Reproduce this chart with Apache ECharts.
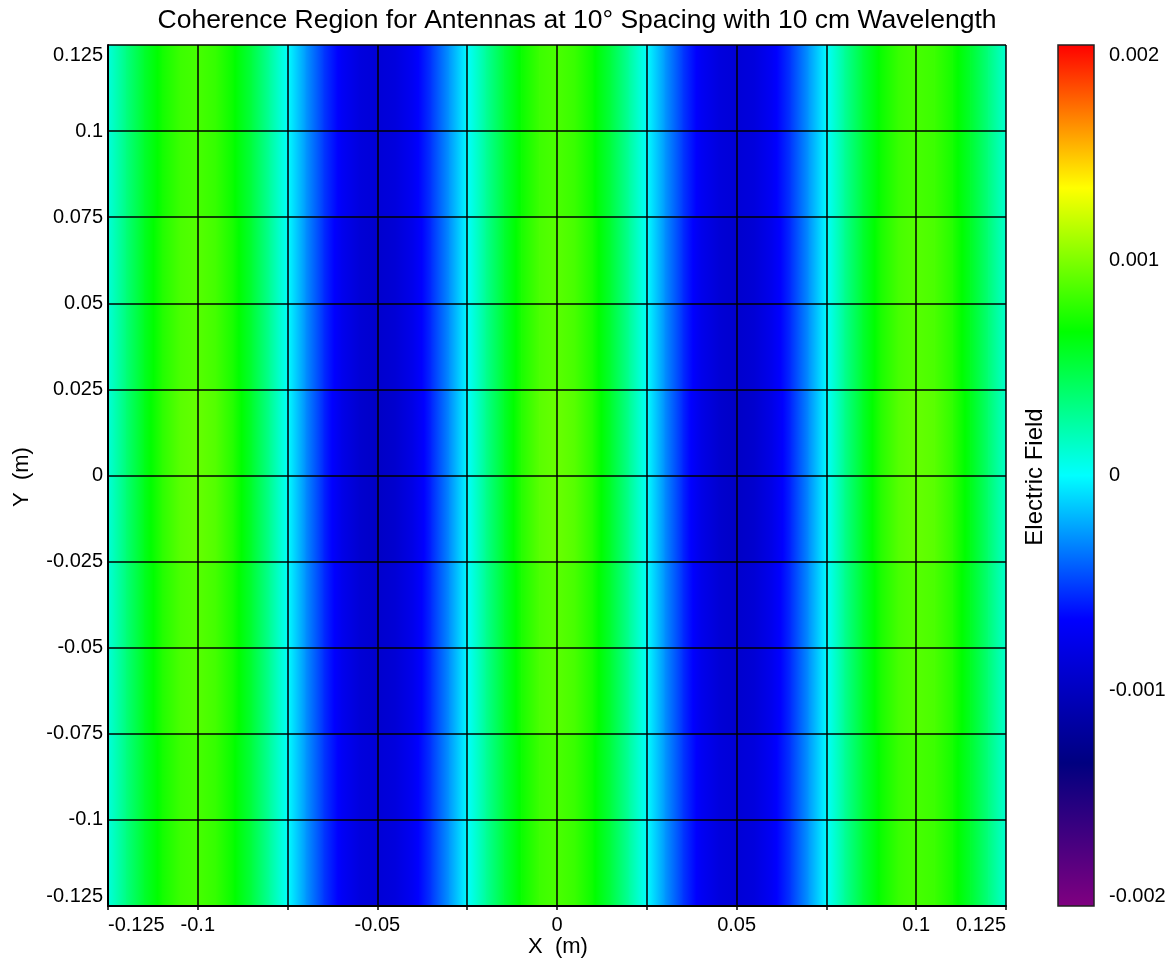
<!DOCTYPE html>
<html>
<head>
<meta charset="utf-8">
<script src="https://cdn.jsdelivr.net/npm/echarts@6/dist/echarts.min.js"></script>
<style>html,body{margin:0;padding:0;background:#fff}#c{width:1165px;height:963px}</style>
</head>
<body>
<div id="c"></div>
<script>
// ---- data ----
const titleText = 'Coherence Region for Antennas at 10° Spacing with 10 cm Wavelength';
const xSamples = [-0.125,-0.12,-0.115,-0.11,-0.105,-0.1,-0.095,-0.09,-0.085,-0.08,-0.075,-0.07,-0.065,-0.06,-0.055,-0.05,-0.045,-0.04,-0.035,-0.03,-0.025,-0.02,-0.015,-0.01,-0.005,0,0.005,0.01,0.015,0.02,0.025,0.03,0.035,0.04,0.045,0.05,0.055,0.06,0.065,0.07,0.075,0.08,0.085,0.09,0.095,0.1,0.105,0.11,0.115,0.12,0.125];
const yBandEdges = [-0.125,-0.075,-0.025,0.025,0.075,0.125];
// Electric field across x, one list per y band (bottom band first)
const fieldBand1 = [0.00009,0.00033,0.00055,0.00071,0.00082,0.00085,0.00080,0.00068,0.00050,0.00026,0.00000,-0.00027,-0.00052,-0.00071,-0.00084,-0.00088,-0.00084,-0.00072,-0.00052,-0.00027,0.00000,0.00026,0.00050,0.00069,0.00082,0.00086,0.00081,0.00069,0.00050,0.00026,0.00000,-0.00027,-0.00052,-0.00072,-0.00084,-0.00088,-0.00084,-0.00071,-0.00052,-0.00027,0.00000,0.00027,0.00051,0.00069,0.00081,0.00085,0.00082,0.00072,0.00055,0.00034,0.00011];
const fieldBand2 = [0.00010,0.00035,0.00058,0.00075,0.00086,0.00089,0.00084,0.00072,0.00053,0.00028,0.00000,-0.00029,-0.00055,-0.00075,-0.00088,-0.00093,-0.00088,-0.00076,-0.00055,-0.00029,0.00000,0.00028,0.00053,0.00073,0.00086,0.00090,0.00085,0.00073,0.00053,0.00028,0.00000,-0.00029,-0.00055,-0.00076,-0.00088,-0.00093,-0.00088,-0.00075,-0.00055,-0.00029,0.00000,0.00029,0.00054,0.00073,0.00085,0.00089,0.00086,0.00076,0.00058,0.00036,0.00012];
const fieldBand3 = [0.00010,0.00036,0.00060,0.00078,0.00090,0.00093,0.00088,0.00075,0.00055,0.00029,0.00000,-0.00030,-0.00057,-0.00078,-0.00092,-0.00097,-0.00092,-0.00079,-0.00057,-0.00030,0.00000,0.00029,0.00055,0.00076,0.00090,0.00094,0.00089,0.00076,0.00055,0.00029,0.00000,-0.00030,-0.00057,-0.00079,-0.00092,-0.00097,-0.00092,-0.00078,-0.00057,-0.00030,0.00000,0.00030,0.00056,0.00076,0.00089,0.00093,0.00090,0.00079,0.00061,0.00038,0.00013];
const fieldBand4 = [0.00010,0.00035,0.00058,0.00075,0.00086,0.00089,0.00084,0.00072,0.00053,0.00028,0.00000,-0.00029,-0.00055,-0.00075,-0.00088,-0.00093,-0.00088,-0.00076,-0.00055,-0.00029,0.00000,0.00028,0.00053,0.00073,0.00086,0.00090,0.00085,0.00073,0.00053,0.00028,0.00000,-0.00029,-0.00055,-0.00076,-0.00088,-0.00093,-0.00088,-0.00075,-0.00055,-0.00029,0.00000,0.00029,0.00054,0.00073,0.00085,0.00089,0.00086,0.00076,0.00058,0.00036,0.00012];
const fieldBand5 = [0.00009,0.00033,0.00055,0.00071,0.00082,0.00085,0.00080,0.00068,0.00050,0.00026,0.00000,-0.00027,-0.00052,-0.00071,-0.00084,-0.00088,-0.00084,-0.00072,-0.00052,-0.00027,0.00000,0.00026,0.00050,0.00069,0.00082,0.00086,0.00081,0.00069,0.00050,0.00026,0.00000,-0.00027,-0.00052,-0.00072,-0.00084,-0.00088,-0.00084,-0.00071,-0.00052,-0.00027,0.00000,0.00027,0.00051,0.00069,0.00081,0.00085,0.00082,0.00072,0.00055,0.00034,0.00011];
const xTickLabels = [-0.125,-0.1,-0.05,0,0.05,0.1,0.125];
const colorbarLabels = [-0.002,-0.001,0,0.001,0.002];
const fieldMin = -0.002, fieldMax = 0.002;
const palette = ['#800080','#000080','#0000ff','#00ffff','#00ff00','#ffff00','#ff0000'];

// ---- build ----
const bands = [fieldBand1, fieldBand2, fieldBand3, fieldBand4, fieldBand5];
const cells = [];
bands.forEach((row, j) => {
  for (let i = 0; i < xSamples.length - 1; i++) {
    cells.push([xSamples[i], xSamples[i+1], yBandEdges[j], yBandEdges[j+1], row[i], row[i+1]]);
  }
});
function norm(v){ return Math.max(0, Math.min(1, (v - fieldMin) / (fieldMax - fieldMin))); }
function colorOf(v){ return echarts.color.lerp(norm(v), palette); }
function gradientStops(v0, v1){
  const stops = [{offset:0, color:colorOf(v0)}];
  const n = palette.length - 1;
  if (v1 !== v0) {
    const knots = [];
    for (let k = 1; k < n; k++) {
      const kv = fieldMin + (fieldMax - fieldMin) * k / n;
      const t = (kv - v0) / (v1 - v0);
      if (t > 0 && t < 1) knots.push(t);
    }
    knots.sort((a,b)=>a-b).forEach(t => stops.push({offset:t, color:colorOf(v0 + (v1 - v0) * t)}));
  }
  stops.push({offset:1, color:colorOf(v1)});
  return stops;
}
const fmt = v => String(Number((+v).toFixed(6)));
const FONT = '"Liberation Sans", Arial, sans-serif';
const chart = echarts.init(document.getElementById('c'), null, {renderer:'canvas'});
chart.setOption({
  animation: false,
  backgroundColor: '#ffffff',
  textStyle: {fontFamily: FONT},
  grid: [
    {left:108, top:45, width:898, height:861, outerBoundsMode:'none', containLabel:false},
    {left:1058, top:45, width:36, height:861, outerBoundsMode:'none', containLabel:false}
  ],
  xAxis: [
    {gridIndex:0, type:'value', min:-0.125, max:0.125, interval:0.025, z:10,
     axisLine:{show:true, onZero:false, lineStyle:{color:'#000', width:2}},
     axisTick:{show:true, length:4, lineStyle:{color:'#000', width:1.5}},
     splitLine:{show:true, lineStyle:{color:'#000', width:1.5}},
     axisLabel:{customValues:xTickLabels, formatter:fmt, color:'#000', fontSize:20, fontFamily:FONT, margin:9,
                alignMinLabel:'left', alignMaxLabel:'right'}},
    {gridIndex:1, type:'value', min:0, max:1, show:false}
  ],
  yAxis: [
    {gridIndex:0, type:'value', min:-0.125, max:0.125, interval:0.025, z:10,
     axisLine:{show:true, onZero:false, lineStyle:{color:'#000', width:2}},
     axisTick:{show:false},
     splitLine:{show:true, lineStyle:{color:'#000', width:1.5}},
     axisLabel:{formatter:fmt, color:'#000', fontSize:20, fontFamily:FONT, margin:5,
                verticalAlignMinLabel:'bottom', verticalAlignMaxLabel:'top'}},
    {gridIndex:1, type:'value', min:fieldMin, max:fieldMax, position:'right',
     axisLine:{show:false}, axisTick:{show:false}, splitLine:{show:false},
     axisLabel:{customValues:colorbarLabels, formatter:fmt, color:'#000', fontSize:20, fontFamily:FONT, margin:15,
                verticalAlignMinLabel:'bottom', verticalAlignMaxLabel:'top'}}
  ],
  series: [
    {type:'custom', xAxisIndex:0, yAxisIndex:0, clip:true, data:cells, encode:{x:[0,1], y:[2,3]},
     renderItem: function(params, api){
       const p0 = api.coord([api.value(0), api.value(3)]);
       const p1 = api.coord([api.value(1), api.value(2)]);
       return {type:'rect', shape:{x:p0[0], y:p0[1], width:p1[0]-p0[0]+0.8, height:p1[1]-p0[1]+0.8},
               style:{fill:new echarts.graphic.LinearGradient(0,0,1,0, gradientStops(api.value(4), api.value(5))), stroke:null}};
     }},
    {type:'custom', xAxisIndex:1, yAxisIndex:1, data:[[0,1,fieldMin,fieldMax]], encode:{x:[0,1], y:[2,3]},
     renderItem: function(params, api){
       const p0 = api.coord([api.value(0), api.value(3)]);
       const p1 = api.coord([api.value(1), api.value(2)]);
       const n = palette.length - 1;
       const stops = palette.map((c,k)=>({offset:k/n, color:c}));
       return {type:'rect', shape:{x:p0[0], y:p0[1], width:p1[0]-p0[0], height:p1[1]-p0[1]},
               style:{fill:new echarts.graphic.LinearGradient(0,1,0,0, stops), stroke:'#222', lineWidth:1.5}};
     }}
  ],
  graphic: [
    {type:'text', x:577, y:21, style:{text:titleText, font:'26.5px '+FONT, fill:'#000', textAlign:'center', textVerticalAlign:'middle'}},
    {type:'text', x:558, y:947, style:{text:'X  (m)', font:'22px '+FONT, fill:'#000', textAlign:'center', textVerticalAlign:'middle'}},
    {type:'text', x:22, y:477, rotation:Math.PI/2, style:{text:'Y  (m)', font:'22px '+FONT, fill:'#000', textAlign:'center', textVerticalAlign:'middle'}},
    {type:'text', x:1035, y:477, rotation:Math.PI/2, style:{text:'Electric Field', font:'24px '+FONT, fill:'#000', textAlign:'center', textVerticalAlign:'middle'}}
  ]
});
</script>
</body>
</html>
